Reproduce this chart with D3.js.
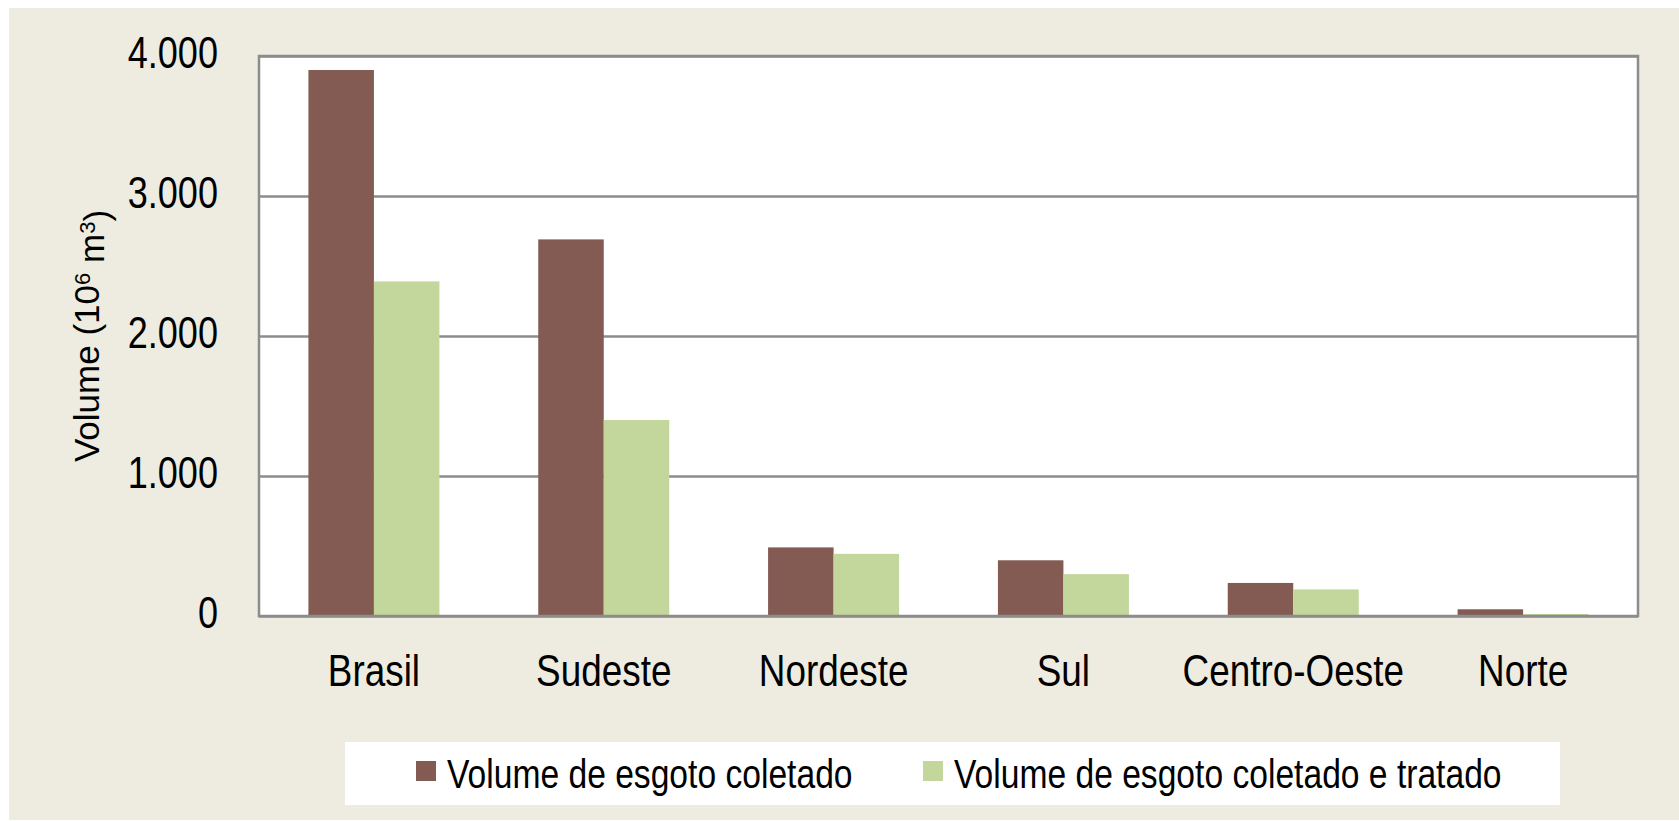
<!DOCTYPE html>
<html lang="pt">
<head>
    <meta charset="UTF-8">
    <title>Volume de esgoto coletado e tratado</title>
    <script src="https://d3js.org/d3.v7.min.js"></script>
    <style>
        body { margin: 0; background: #ffffff; }
        /* no narrow font installed: squeeze Liberation Sans horizontally instead */
        .narrow { font-family: "Liberation Sans", Arial, sans-serif; fill: #000; }
        .y-title { font-family: "Liberation Sans", Arial, sans-serif; font-size: 35px; fill: #000; }
        .grid line { stroke: #8c8c8c; stroke-width: 2.5; }
    </style>
</head>
<body>
<div id="chart-container"></div>
<script>
// Data (10^6 m3)
const regioes = ['Brasil', 'Sudeste', 'Nordeste', 'Sul', 'Centro-Oeste', 'Norte'];
const coletado = [3900, 2690, 490, 398, 236, 48];
const tratado = [2390, 1400, 444, 299, 190, 14];
const seriesNames = ['Volume de esgoto coletado', 'Volume de esgoto coletado e tratado'];
const seriesColors = ['#845b52', '#c3d69b'];
const yTicks = [0, 1000, 2000, 3000, 4000];

const W = 1679, H = 821;
const plot = { left: 259, top: 56, right: 1638, bottom: 616 };
const squeeze = 0.82;

const svg = d3.select('#chart-container')
    .append('svg')
    .attr('width', W)
    .attr('height', H);

// beige background panel
svg.append('rect')
    .attr('x', 9).attr('y', 8)
    .attr('width', W - 9).attr('height', H - 9)
    .attr('fill', '#eeece1');

// scales
const x0 = d3.scaleBand()
    .domain(regioes)
    .range([plot.left, plot.right])
    .paddingInner(0.43)
    .paddingOuter(0.215);

const x1 = d3.scaleBand()
    .domain(seriesNames)
    .range([0, x0.bandwidth()]);

const y = d3.scaleLinear()
    .domain([0, 4000])
    .range([plot.bottom, plot.top]);

// plot area
svg.append('rect')
    .attr('x', plot.left).attr('y', plot.top)
    .attr('width', plot.right - plot.left)
    .attr('height', plot.bottom - plot.top)
    .attr('fill', '#ffffff');

// gridlines
svg.append('g')
    .attr('class', 'grid')
    .attr('transform', `translate(${plot.left},0)`)
    .call(d3.axisLeft(y).tickValues(yTicks).tickSize(-(plot.right - plot.left)).tickFormat(''))
    .call(g => g.select('.domain').remove());

// bars
const rows = regioes.map((r, i) => ({ regiao: r, values: [coletado[i], tratado[i]] }));

svg.append('g')
    .selectAll('g')
    .data(rows)
    .enter()
    .append('g')
    .attr('transform', d => `translate(${x0(d.regiao)},0)`)
    .selectAll('rect')
    .data(d => d.values.map((v, j) => ({ key: seriesNames[j], value: v, color: seriesColors[j] })))
    .enter()
    .append('rect')
    .attr('x', d => x1(d.key))
    .attr('y', d => y(d.value))
    .attr('width', x1.bandwidth())
    .attr('height', d => y(0) - y(d.value))
    .attr('fill', d => d.color);

// plot border
svg.append('rect')
    .attr('x', plot.left).attr('y', plot.top)
    .attr('width', plot.right - plot.left)
    .attr('height', plot.bottom - plot.top)
    .attr('fill', 'none')
    .attr('stroke', '#8c8c8c')
    .attr('stroke-width', 2.5);

// y tick labels
svg.append('g')
    .selectAll('text')
    .data(yTicks)
    .enter()
    .append('text')
    .attr('class', 'narrow')
    .attr('transform', d => `translate(218,${y(d) - 3}) scale(${squeeze},1)`)
    .attr('dy', '0.35em')
    .attr('text-anchor', 'end')
    .style('font-size', '44px')
    .text(d => d3.format(',')(d).replace(/,/g, '.'));

// x category labels
svg.append('g')
    .selectAll('text')
    .data(regioes)
    .enter()
    .append('text')
    .attr('class', 'narrow')
    .attr('transform', d => `translate(${x0(d) + x0.bandwidth() / 2},686) scale(${squeeze},1)`)
    .attr('text-anchor', 'middle')
    .style('font-size', '45px')
    .text(d => d);

// y axis title with superscripts
const yt = svg.append('text')
    .attr('class', 'y-title')
    .attr('transform', `translate(99,336) rotate(-90)`)
    .attr('text-anchor', 'middle');
yt.append('tspan').text('Volume (10');
yt.append('tspan').attr('dy', '-0.4em').style('font-size', '22px').text('6');
yt.append('tspan').attr('dy', '0.4em').text(' m');
yt.append('tspan').attr('dy', '-0.4em').style('font-size', '22px').text('3');
yt.append('tspan').attr('dy', '0.4em').text(')');

// legend
const legend = svg.append('g');
legend.append('rect')
    .attr('x', 345).attr('y', 742)
    .attr('width', 1560 - 345).attr('height', 63)
    .attr('fill', '#ffffff');

const legendX = [416, 923];
const item = legend.selectAll('g.item')
    .data(seriesNames)
    .enter()
    .append('g')
    .attr('class', 'item')
    .attr('transform', (d, i) => `translate(${legendX[i]},0)`);

item.append('rect')
    .attr('x', 0).attr('y', 761)
    .attr('width', 20).attr('height', 20)
    .attr('fill', (d, i) => seriesColors[i]);

item.append('text')
    .attr('class', 'narrow')
    .attr('transform', `translate(31,788) scale(${squeeze},1)`)
    .style('font-size', '41px')
    .text(d => d);
</script>
</body>
</html>
